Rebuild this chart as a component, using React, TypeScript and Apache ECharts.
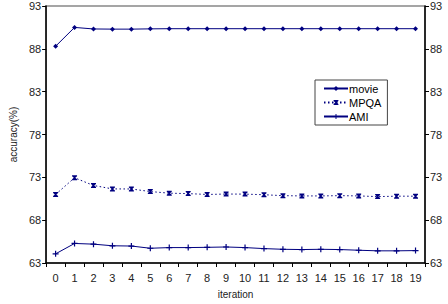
import React, { useEffect, useRef } from "react";
import * as echarts from "echarts";

const iterations = ["0","1","2","3","4","5","6","7","8","9","10","11","12","13","14","15","16","17","18","19"];
const movie = [88.3, 90.5, 90.32, 90.3, 90.3, 90.33, 90.35, 90.35, 90.35, 90.35, 90.35, 90.35, 90.35, 90.35, 90.35, 90.35, 90.35, 90.35, 90.35, 90.35];
const mpqa = [71.0, 72.95, 72.05, 71.65, 71.64, 71.34, 71.15, 71.1, 71.0, 71.05, 71.04, 70.97, 70.86, 70.83, 70.83, 70.86, 70.83, 70.75, 70.8, 70.8];
const ami = [64.07, 65.28, 65.2, 65.01, 64.98, 64.72, 64.8, 64.8, 64.83, 64.87, 64.8, 64.68, 64.6, 64.57, 64.6, 64.57, 64.49, 64.42, 64.42, 64.45];
const yTicks = [63, 68, 73, 78, 83, 88, 93];

const NAVY = "#000080";
const FONT = "Liberation Sans";

const hourglass = "path://M0,0 L10,0 L10,2 L6.5,5 L10,8 L10,10 L0,10 L0,8 L3.5,5 L0,2 Z";
const plus = "path://M4,0 H6 V4 H10 V6 H6 V10 H4 V6 H0 V4 H4 Z";

export default function App() {
  const ref = useRef<HTMLDivElement>(null);
  useEffect(() => {
    const chart = echarts.init(ref.current!, null, { renderer: "svg" });
    const yAxisBase = {
      type: "value",
      min: 63,
      max: 93,
      axisLine: { show: true, lineStyle: { color: "#000", width: 1.5 } },
      axisTick: { show: true, length: 4, customValues: yTicks, lineStyle: { color: "#000" } },
      axisLabel: { customValues: yTicks, fontFamily: FONT, fontSize: 11, color: "#222", margin: 5 },
      splitLine: { show: false },
    };
    chart.setOption({
      animation: false,
      textStyle: { fontFamily: FONT },
      grid: { left: 27, right: 23, top: 6, bottom: 33, show: true, borderColor: "#888", borderWidth: 1.5 },
      legend: {
        orient: "vertical",
        left: 315,
        top: 80,
        width: 74,
        backgroundColor: "#fff",
        borderColor: "#444",
        borderWidth: 1,
        padding: [3, 6, 3, 8],
        itemGap: 3,
        itemWidth: 24,
        itemHeight: 6,
        textStyle: { fontFamily: FONT, fontSize: 11, color: "#000", padding: [0, 0, 0, -4], lineHeight: 11 },
        data: ["movie", "MPQA", "AMI"],
      },
      xAxis: {
        type: "category",
        data: iterations,
        boundaryGap: true,
        name: "iteration",
        nameLocation: "middle",
        nameGap: 26,
        nameTextStyle: { fontFamily: FONT, fontSize: 10, color: "#222" },
        axisLine: { lineStyle: { color: "#000", width: 1.5 } },
        axisTick: { show: true, length: 4, lineStyle: { color: "#000" } },
        axisLabel: { fontFamily: FONT, fontSize: 11, color: "#222", margin: 9, interval: 0 },
      },
      yAxis: [
        {
          ...yAxisBase,
          position: "left",
          name: "accuracy(%)",
          nameLocation: "middle",
          nameGap: 20,
          nameTextStyle: { fontFamily: FONT, fontSize: 10, color: "#222" },
        },
        { ...yAxisBase, position: "right" },
      ],
      series: [
        {
          name: "movie",
          type: "line",
          data: movie,
          symbol: "diamond",
          symbolSize: 5,
          lineStyle: { color: NAVY, width: 1 },
          itemStyle: { color: NAVY },
        },
        {
          name: "MPQA",
          type: "line",
          data: mpqa,
          symbol: hourglass,
          symbolSize: 5,
          lineStyle: { color: NAVY, width: 1, type: [1.5, 2.5] },
          itemStyle: { color: NAVY },
        },
        {
          name: "AMI",
          type: "line",
          data: ami,
          symbol: plus,
          symbolSize: 6,
          lineStyle: { color: NAVY, width: 1 },
          itemStyle: { color: NAVY },
        },
      ],
    });
    return () => chart.dispose();
  }, []);
  return <div ref={ref} style={{ width: 448, height: 304, position: "absolute", left: 0, top: 0 }} />;
}
